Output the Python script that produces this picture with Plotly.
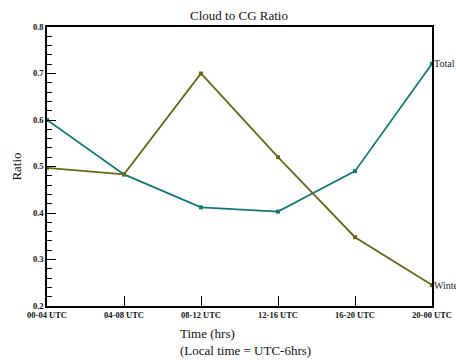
import plotly.graph_objects as go

categories = ["00-04 UTC", "04-08 UTC", "08-12 UTC", "12-16 UTC", "16-20 UTC", "20-00 UTC"]
total = [0.600, 0.483, 0.412, 0.403, 0.490, 0.721]
winter = [0.497, 0.483, 0.700, 0.520, 0.348, 0.245]
y_ticks = [0.2, 0.3, 0.4, 0.5, 0.6, 0.7, 0.8]

teal = "#137878"
olive = "#666614"
serif = "Liberation Serif, Times New Roman, serif"

xs = list(range(len(categories)))

L, R, T, B = 47, 24, 27, 54
W, H = 456, 360
pa_w = W - L - R
pa_h = H - T - B

fig = go.Figure()
fig.add_trace(go.Scatter(x=xs, y=total, mode="lines+markers", name="Total",
                         line=dict(color=teal, width=1.8),
                         marker=dict(symbol="square", size=4, color=teal),
                         cliponaxis=False))
fig.add_trace(go.Scatter(x=xs, y=winter, mode="lines+markers", name="Winter",
                         line=dict(color=olive, width=1.8),
                         marker=dict(symbol="square", size=4, color=olive),
                         cliponaxis=False))

fig.add_annotation(x=xs[-1], y=total[-1], text="Total", xref="x", yref="y",
                   showarrow=False, xanchor="left", yanchor="middle", xshift=0,
                   font=dict(family=serif, size=10, color="#222"))
fig.add_annotation(x=xs[-1], y=winter[-1], text="Winter", xref="x", yref="y",
                   showarrow=False, xanchor="left", yanchor="middle", xshift=0,
                   font=dict(family=serif, size=10, color="#222"))

fig.add_annotation(x=(178 - L) / pa_w, y=(H - B - 342) / pa_h, xref="paper", yref="paper",
                   text="Time (hrs)<br>(Local time = UTC-6hrs)", align="left",
                   showarrow=False, xanchor="left", yanchor="middle",
                   font=dict(family=serif, size=13, color="#111"))

fig.update_layout(
    width=W, height=H,
    margin=dict(l=L, r=R, t=T, b=B, autoexpand=False),
    paper_bgcolor="white", plot_bgcolor="white",
    showlegend=False,
    title=dict(text="Cloud to CG Ratio", x=239 / W, xanchor="center", y=1 - 15 / H, yanchor="middle",
               font=dict(family=serif, size=13, color="#111")),
    xaxis=dict(range=[0, 5], tickvals=xs, ticktext=categories, automargin=False,
               showgrid=False, zeroline=False, showline=True, linecolor="black", linewidth=1.5,
               mirror=True, ticks="inside", ticklen=10, tickcolor="black", tickwidth=1,
               tickfont=dict(family=serif, size=8.5, color="#111", weight="bold")),
    yaxis=dict(range=[0.2, 0.8], tickvals=y_ticks, automargin=False,
               showgrid=False, zeroline=False, showline=True, linecolor="black", linewidth=1.5,
               mirror=True, ticks="inside", ticklen=9, tickcolor="black", tickwidth=1,
               tickformat=".1f",
               minor=dict(dtick=0.02, ticks="inside", ticklen=5, tickcolor="black", tickwidth=1),
               tickfont=dict(family=serif, size=8.5, color="#111", weight="bold"),
               title=dict(text="Ratio", font=dict(family=serif, size=13, color="#111"), standoff=8)),
)

fig.write_html("out.html", config={"displayModeBar": False},
               post_script="document.body.style.margin='0';document.body.style.overflow='hidden';")
